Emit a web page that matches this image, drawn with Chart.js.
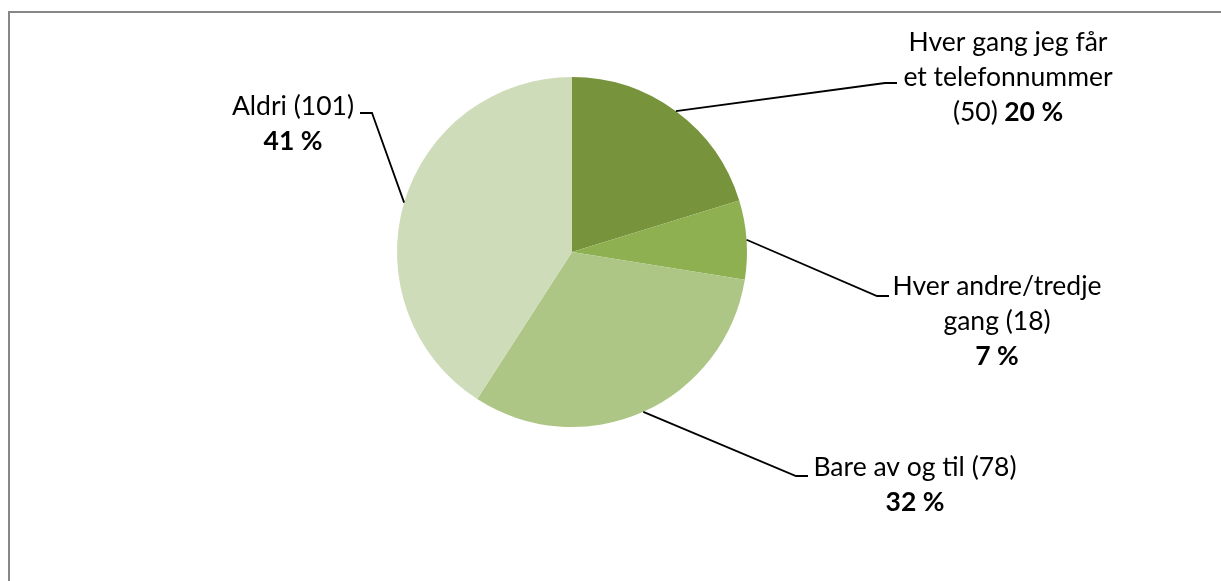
<!DOCTYPE html>
<html>
<head>
<meta charset="utf-8">
<script src="https://cdn.jsdelivr.net/npm/chart.js@4.4.1/dist/chart.umd.min.js"></script>
<style>
  html, body { margin: 0; padding: 0; background: #fff; }
  canvas { display: block; }
</style>
</head>
<body>
<canvas id="chart" width="1221" height="581"></canvas>
<script>
// data
const categories = ['Hver gang jeg får et telefonnummer', 'Hver andre/tredje gang', 'Bare av og til', 'Aldri'];
const counts = [50, 18, 78, 101];

// styling
const sliceColors = ['#77933C', '#8FB051', '#ADC686', '#CFDCB9'];
const FONT = 'Lato, "Open Sans", sans-serif';
const FONT_SIZE = 26.5;
const LINE_H = 35;

// where each label sits: text centre + first baseline, leader elbow, words per line
const labelLayout = [
    { cx: 1008, top: 51, elbowX: 885, endX: 897, lineY: 83, breaks: [4, 2, 2] },
    { cx: 997, top: 295, elbowX: 877, endX: 889, lineY: 296, breaks: [2, 2, 1] },
    { cx: 915, top: 476, elbowX: 796, endX: 808, lineY: 476, breaks: [5, 1] },
    { cx: 293, top: 115, elbowX: 372, endX: 360, lineY: 113, breaks: [2, 1] }
];

const sliceLabels = {
    id: 'sliceLabels',
    afterDraw(chart) {
        const ctx = chart.ctx;
        const arcs = chart.getDatasetMeta(0).data;
        const total = counts.reduce((a, b) => a + b, 0);

        ctx.save();
        // outer frame
        ctx.strokeStyle = '#878787';
        ctx.lineWidth = 2;
        ctx.strokeRect(9, 12, 1240, 620);

        arcs.forEach((arc, i) => {
            const p = arc.getProps(['x', 'y', 'startAngle', 'endAngle', 'outerRadius'], true);
            const mid = (p.startAngle + p.endAngle) / 2;
            const sx = p.x + Math.cos(mid) * p.outerRadius;
            const sy = p.y + Math.sin(mid) * p.outerRadius;
            const L = labelLayout[i];

            // leader line
            ctx.strokeStyle = '#000';
            ctx.lineWidth = 1.8;
            ctx.beginPath();
            ctx.moveTo(sx, sy);
            ctx.lineTo(L.elbowX, L.lineY);
            ctx.lineTo(L.endX, L.lineY);
            ctx.stroke();

            // label text
            const words = (categories[i] + ' (' + counts[i] + ')').split(' ').map(t => ({ t, bold: false }));
            words.push({ t: Math.round(counts[i] / total * 100) + ' %', bold: true });

            ctx.fillStyle = '#000';
            ctx.textBaseline = 'alphabetic';
            ctx.textAlign = 'left';
            let k = 0;
            L.breaks.forEach((n, li) => {
                const parts = words.slice(k, k + n).map((w, j) => ({ text: (j ? ' ' : '') + w.t, bold: w.bold }));
                k += n;
                let width = 0;
                parts.forEach(pt => {
                    ctx.font = (pt.bold ? 'bold ' : '') + FONT_SIZE + 'px ' + FONT;
                    pt.w = ctx.measureText(pt.text).width;
                    width += pt.w;
                });
                let x = L.cx - width / 2;
                const y = L.top + li * LINE_H;
                parts.forEach(pt => {
                    ctx.font = (pt.bold ? 'bold ' : '') + FONT_SIZE + 'px ' + FONT;
                    ctx.fillText(pt.text, x, y);
                    x += pt.w;
                });
            });
        });
        ctx.restore();
    }
};

new Chart(document.getElementById('chart'), {
    type: 'pie',
    data: {
        labels: categories,
        datasets: [{
            data: counts,
            backgroundColor: sliceColors,
            borderWidth: 0
        }]
    },
    options: {
        responsive: false,
        animation: false,
        layout: { padding: { top: 77, bottom: 154, left: 397, right: 474 } },
        plugins: {
            legend: { display: false },
            tooltip: { enabled: false }
        }
    },
    plugins: [sliceLabels]
});
</script>
</body>
</html>
